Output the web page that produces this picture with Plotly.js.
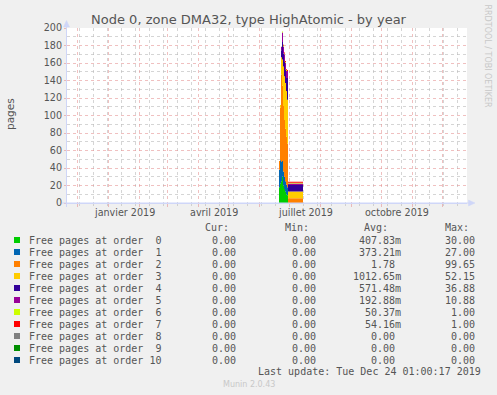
<!DOCTYPE html>
<html>
<head>
<meta charset="utf-8">
<script src="https://cdn.plot.ly/plotly-3.0.1.min.js"></script>
<style>html,body{margin:0;padding:0;background:#F0F0F0;}#chart{width:497px;height:395px;}</style>
</head>
<body>
<div id="chart"></div>
<script>
// ---- data ----
const dates = ['2019-06-20','2019-06-21','2019-06-22','2019-06-23','2019-06-24','2019-06-25','2019-06-26','2019-06-27','2019-06-28','2019-06-29',
  '2019-06-30','2019-07-01','2019-07-02','2019-07-03','2019-07-04','2019-07-05','2019-07-06','2019-07-07','2019-07-08','2019-07-09',
  '2019-07-10','2019-07-11','2019-07-12','2019-07-13','2019-07-14','2019-07-15'];
const order0  = [0, 18,22,25,30,20,16,13,10,9,  0,0,0,0,0,0,0,0,0,0,0,0,0,0,0, 0];
const order1  = [0, 20,27,22,18,16,14,12,11,9,  0,0,0,0,0,0,0,0,0,0,0,0,0,0,0, 0];
const order2  = [0, 10,60,99.65,86,75,65,60,55,50,  5.5,5.5,5.5,5.5,5.5,5.5,5.5,5.5,5.5,5.5,5.5,5.5,5.5,5.5,5.5, 0];
const order3  = [0, 0,3,20,30,45,50,52.15,52,50,  7.6,7.6,7.6,7.6,7.6,7.6,7.6,7.6,7.6,7.6,7.6,7.6,7.6,7.6,7.6, 0];
const order4  = [0, 0,0,8,20,15,17,15,15,25,  7.6,7.6,7.6,7.6,7.6,7.6,7.6,7.6,7.6,7.6,7.6,7.6,7.6,7.6,7.6, 0];
const order5  = [0, 0,0,4,10.88,8,8,8,8,8,  1.5,1.5,1.5,1.5,1.5,1.5,1.5,1.5,1.5,1.5,1.5,1.5,1.5,1.5,1.5, 0];
const order6  = [0, 0,0,0,1,1,1,1,1,0,  1,1,1,1,1,1,1,1,1,1,1,1,1,1,1, 0];
const order7  = [0, 0,0,0,0,1,1,1,1,1,  1,1,1,1,1,1,1,1,1,1,1,1,1,1,1, 0];
const order8  = [0, 0,0,0,0,0,0,0,0,0,  0,0,0,0,0,0,0,0,0,0,0,0,0,0,0, 0];
const order9  = [0, 0,0,0,0,0,0,0,0,0,  0,0,0,0,0,0,0,0,0,0,0,0,0,0,0, 0];
const order10 = [0, 0,0,0,0,0,0,0,0,0,  0,0,0,0,0,0,0,0,0,0,0,0,0,0,0, 0];

const seriesNames = ['Free pages at order\u00A0\u00A00','Free pages at order\u00A0\u00A01','Free pages at order\u00A0\u00A02',
  'Free pages at order\u00A0\u00A03','Free pages at order\u00A0\u00A04','Free pages at order\u00A0\u00A05',
  'Free pages at order\u00A0\u00A06','Free pages at order\u00A0\u00A07','Free pages at order\u00A0\u00A08',
  'Free pages at order\u00A0\u00A09','Free pages at order 10'];
const seriesColors = ['#00CC00','#0066B3','#FF8000','#FFCC00','#330099','#990099','#CCFF00','#FF0000','#808080','#008F00','#00487D'];
const curVals = ['0.00','0.00','0.00','0.00','0.00','0.00','0.00','0.00','0.00','0.00','0.00'];
const minVals = ['0.00','0.00','0.00','0.00','0.00','0.00','0.00','0.00','0.00','0.00','0.00'];
const avgVals = ['407.83m','373.21m','1.78\u00A0','1012.65m','571.48m','192.88m','50.37m','54.16m','0.00\u00A0','0.00\u00A0','0.00\u00A0'];
const maxVals = ['30.00','27.00','99.65','52.15','36.88','10.88','1.00','1.00','0.00','0.00','0.00'];

const monthLabels = ['janvier 2019','avril 2019','juillet 2019','octobre 2019'];
const monthLabelDates = ['2019-01-17','2019-04-17','2019-07-17','2019-10-17'];

const chartTitle = 'Node 0, zone DMA32, type HighAtomic - by year';
const lastUpdate = 'Last update: Tue Dec 24 01:00:17 2019';

// ---- geometry helpers (pixel -> paper) ----
const PL = 67, PR = 467, PT = 28, PB = 203;
const px = x => (x - PL) / (PR - PL);
const py = y => (PB - y) / (PB - PT);

const allSeries = [order0,order1,order2,order3,order4,order5,order6,order7,order8,order9,order10];
const traces = allSeries.map((s, i) => ({
  type: 'scatter', x: dates, y: s, stackgroup: 'one', mode: 'lines',
  line: {width: 0, shape: 'hv'}, fillcolor: seriesColors[i], name: seriesNames[i],
  showlegend: false, hoverinfo: 'skip'
}));

const FONT = 'DejaVu Sans, sans-serif';
const MONO = 'DejaVu Sans Mono, monospace';
const TXT = '#555555';
const annotations = [];
const shapes = [];

// x labels
monthLabels.forEach((t, i) => annotations.push({
  xref: 'x', yref: 'paper', x: monthLabelDates[i], y: py(212), text: t, showarrow: false,
  xanchor: 'center', yanchor: 'middle', font: {family: FONT, size: 9.6, color: TXT}
}));
// y title
annotations.push({xref:'paper', yref:'paper', x: px(10), y: py(114), text:'pages', textangle:-90, showarrow:false,
  xanchor:'center', yanchor:'middle', font:{family: FONT, size: 10.5, color: TXT}});
// right side text
annotations.push({xref:'paper', yref:'paper', x: px(487.5), y: py(56), text:'RRDTOOL / TOBI OETIKER', textangle:90, showarrow:false,
  xanchor:'center', yanchor:'middle', font:{family: FONT, size: 8, color: '#C8C8C8'}});
// headers
const hdrY = 227.5;
[['Cur:',230.7],['Min:',310.7],['Avg:',390.3],['Max:',470.7]].forEach(h => annotations.push({
  xref:'paper', yref:'paper', x: px(h[1]), y: py(hdrY), text: h[0], showarrow:false, xanchor:'right', yanchor:'middle',
  font:{family: MONO, size: 10, color: TXT}}));
// rows
seriesNames.forEach((n, i) => {
  const yy = 240 + 12 * i;
  shapes.push({type:'rect', xref:'paper', yref:'paper', x0: px(14), x1: px(20), y0: py(yy - 3), y1: py(yy + 3),
    fillcolor: seriesColors[i], line:{width:0}});
  const cells = [[n, 26.7, 'left'], [curVals[i], 237.7, 'right'], [minVals[i], 317.7, 'right'],
                 [avgVals[i], 403, 'right'], [maxVals[i], 476.7, 'right']];
  cells.forEach(c => annotations.push({xref:'paper', yref:'paper', x: px(c[1]), y: py(yy), text: c[0], showarrow:false,
    xanchor: c[2], yanchor:'middle', font:{family: MONO, size: 10, color: TXT}}));
});
annotations.push({xref:'paper', yref:'paper', x: px(482.7), y: py(371.7), text: lastUpdate, showarrow:false,
  xanchor:'right', yanchor:'middle', font:{family: MONO, size: 10, color: TXT}});
annotations.push({xref:'paper', yref:'paper', x: px(249), y: py(384), text: 'Munin 2.0.43', showarrow:false,
  xanchor:'center', yanchor:'middle', font:{family: FONT, size: 8, color: '#C8C8C8'}});

// axis extensions and arrows
const AX = '#CFD6F8';
shapes.push({type:'line', xref:'paper', yref:'paper', x0: px(66.5), x1: px(66.5), y0: py(207), y1: py(24), line:{color: AX, width:1}});
shapes.push({type:'line', xref:'paper', yref:'paper', x0: px(62), x1: px(470), y0: py(203), y1: py(203), line:{color: AX, width:1}});
shapes.push({type:'path', xref:'paper', yref:'paper',
  path: `M ${px(63.5)} ${py(27)} L ${px(69.5)} ${py(27)} L ${px(66.5)} ${py(20.5)} Z`, fillcolor: AX, line:{color: AX, width:0.5}});
shapes.push({type:'path', xref:'paper', yref:'paper',
  path: `M ${px(468.5)} ${py(200)} L ${px(468.5)} ${py(206)} L ${px(475)} ${py(203)} Z`, fillcolor: AX, line:{color: AX, width:0.5}});

const MAJ = 'rgba(228,140,140,0.55)';
const MIN = 'rgba(185,185,185,0.6)';
const layout = {
  width: 497, height: 395,
  margin: {l: PL, r: 497 - PR, t: PT, b: 395 - PB},
  paper_bgcolor: '#F0F0F0', plot_bgcolor: '#FFFFFF',
  title: {text: chartTitle, font: {family: FONT, size: 13, color: TXT}, x: 0.5, xref: 'container', xanchor: 'center',
          y: 1 - 19.5 / 395, yref: 'container', yanchor: 'middle'},
  xaxis: {type: 'date', range: ['2018-11-21', '2019-12-26'], dtick: 'M1', tick0: '2018-12-01',
    showticklabels: false, showgrid: true, gridcolor: MAJ, griddash: 'dot', gridwidth: 1,
    ticks: 'outside', ticklen: 3, tickcolor: MAJ, showline: true, linecolor: AX, zeroline: false,
    minor: {dtick: 14 * 86400000, tick0: '2019-08-12', showgrid: true, gridcolor: MIN, griddash: 'dot',
            ticks: 'outside', ticklen: 2, tickcolor: MIN},
    fixedrange: true},
  yaxis: {range: [0, 200], dtick: 20, tick0: 0, showgrid: true, gridcolor: MAJ, griddash: 'dot', gridwidth: 1,
    ticks: 'outside', ticklen: 2, tickcolor: MAJ, showline: true, linecolor: AX, zeroline: false,
    tickfont: {family: FONT, size: 9.6, color: TXT},
    minor: {dtick: 10, showgrid: true, gridcolor: MIN, griddash: 'dot'},
    fixedrange: true},
  showlegend: false,
  annotations: annotations,
  shapes: shapes
};
Plotly.newPlot('chart', traces, layout, {displayModeBar: false, staticPlot: true});
</script>
</body>
</html>
